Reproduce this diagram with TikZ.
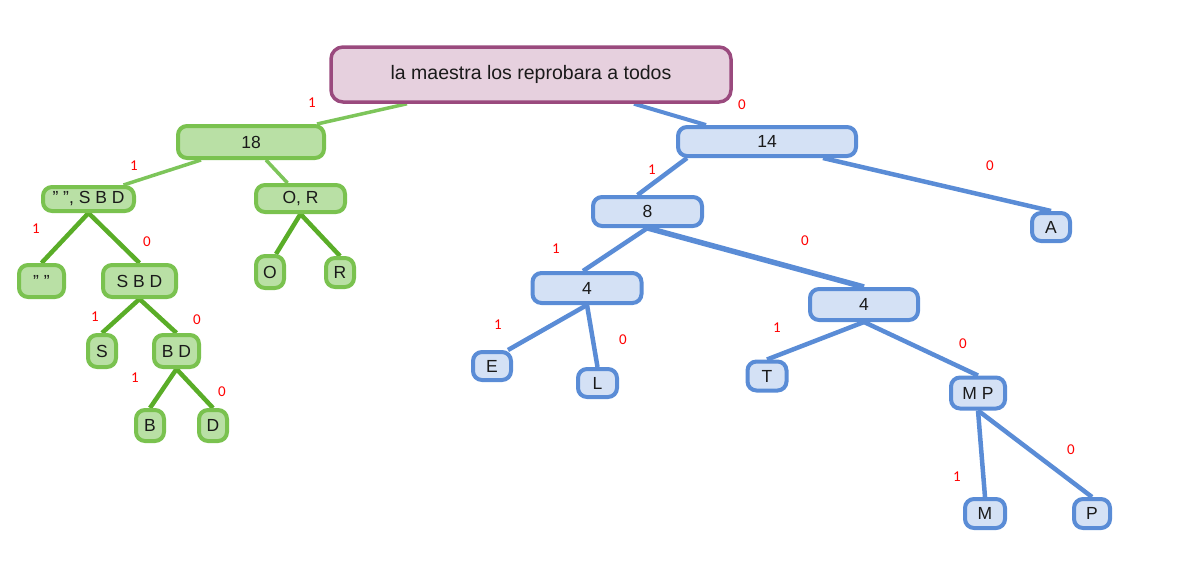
\documentclass[tikz,border=0pt]{standalone}
\usepackage{fontspec}
\setmainfont{Liberation Sans}
\newfontfamily\lblfamily{Carlito}
\usetikzlibrary{backgrounds}
\definecolor{rootfill}{HTML}{E6D0DE}
\definecolor{rootdraw}{HTML}{9A4A7E}
\definecolor{gfill}{HTML}{B9E0A5}
\definecolor{gdraw}{HTML}{7AC24F}
\definecolor{gedge}{HTML}{7DC55A}
\definecolor{gedgedark}{HTML}{5AAD28}
\definecolor{bfill}{HTML}{D4E1F5}
\definecolor{bdraw}{HTML}{5A8CD6}
\definecolor{txt}{HTML}{1A1A1A}
\tikzset{
  box/.style={rounded corners=9pt, line width=4pt, inner sep=0pt, text=txt,
    font=\fontsize{17.5}{17.5}\selectfont},
  gbox/.style={box, draw=gdraw, fill=gfill},
  bbox/.style={box, draw=bdraw, fill=bfill},
  rootbox/.style={box, rounded corners=12pt, line width=3.5pt, draw=rootdraw, fill=rootfill,
    font=\fontsize{19.5}{19.5}\selectfont},
  sz/.style 2 args={minimum width=#1pt, minimum height=#2pt},
  lbl/.style={text=red, inner sep=0pt, font=\lblfamily\fontsize{15}{15}\selectfont},
  gline/.style={draw=gedge, line width=3.5pt},
  gline2/.style={draw=gedgedark, line width=4.5pt},
  bline/.style={draw=bdraw, line width=4.5pt},
}
\begin{document}
\begin{tikzpicture}[x=1pt, y=-1pt]
\useasboundingbox (0,0) rectangle (1201,574);
% root
\node[rootbox, sz={400}{55}] (root) at (531,74.5) {la maestra los reprobara a todos};
% green subtree
\node[gbox, sz={146}{32}] (g18) at (251,142) {18};
\node[gbox, sz={91}{24}] (gsbd1) at (88.5,199) {" ", S B D};
\node[gbox, sz={89}{27}] (gor) at (300.5,198.5) {O, R};
\node[gbox, sz={45}{32}] (gsp) at (41.5,281) {" "};
\node[gbox, sz={73}{32}] (gsbd) at (139.5,281) {S B D};
\node[gbox, sz={28}{32}] (go) at (270,272) {O};
\node[gbox, sz={28}{29}] (gr) at (340,272.5) {R};
\node[gbox, sz={28}{32}] (gs) at (102,351) {S};
\node[gbox, sz={45}{32}] (gbd) at (176.5,351) {B D};
\node[gbox, sz={28}{31}] (gb) at (150,425.5) {B};
\node[gbox, sz={28}{31}] (gd) at (213,425.5) {D};
% blue subtree
\node[bbox, sz={178}{29}] (b14) at (767,141.5) {14};
\node[bbox, sz={109}{29}] (b8) at (647.5,211.5) {8};
\node[bbox, sz={38}{28}] (ba) at (1051,227) {A};
\node[bbox, sz={109}{30}] (b4l) at (587,288) {4};
\node[bbox, sz={108}{31}] (b4r) at (864,304.5) {4};
\node[bbox, sz={38}{28}] (be) at (492,366) {E};
\node[bbox, sz={39}{28}] (bl) at (597.5,383) {L};
\node[bbox, sz={39}{29}] (bt) at (767,376) {T};
\node[bbox, sz={54}{31}] (bmp) at (978,393) {M P};
\node[bbox, sz={40}{29}] (bm) at (985,513.5) {M};
\node[bbox, sz={36}{29}] (bp) at (1092,513.5) {P};
% connectors
\begin{scope}[on background layer]
\draw[gline] ([xshift=-124pt]root.south) -- ([xshift=66pt]g18.north);
\draw[bline, line width=4pt] ([xshift=103pt]root.south) -- ([xshift=-61pt]b14.north);
\draw[gline] ([xshift=-50pt]g18.south) -- ([xshift=35pt]gsbd1.north);
\draw[gline] ([xshift=15pt]g18.south) -- ([xshift=-13pt]gor.north);
\draw[gline2] (gsbd1.south) -- (gsp.north);
\draw[gline2] (gsbd1.south) -- (gsbd.north);
\draw[gline2] (gor.south) -- ([xshift=6pt]go.north);
\draw[gline2] (gor.south) -- (gr.north);
\draw[gline2] (gsbd.south) -- (gs.north);
\draw[gline2] (gsbd.south) -- (gbd.north);
\draw[gline2] (gbd.south) -- (gb.north);
\draw[gline2] (gbd.south) -- (gd.north);
\draw[bline] ([xshift=-80pt]b14.south) -- ([xshift=-10pt]b8.north);
\draw[bline] ([xshift=56pt]b14.south) -- (ba.north);
\draw[bline] (b8.south) -- ([xshift=-4pt]b4l.north);
\draw[bline, line width=5.5pt] (b8.south) -- (b4r.north);
\draw[bline] (b4l.south) -- ([xshift=16pt]be.north);
\draw[bline] (b4l.south) -- (bl.north);
\draw[bline] (b4r.south) -- (bt.north);
\draw[bline] (b4r.south) -- (bmp.north);
\draw[bline] (bmp.south) -- (bm.north);
\draw[bline] (bmp.south) -- (bp.north);
\end{scope}
% edge labels
\node[lbl] (l1) at (312,103) {1};
\node[lbl] (l2) at (742,105) {0};
\node[lbl] (l3) at (134,166) {1};
\node[lbl] (l4) at (36,229) {1};
\node[lbl] (l5) at (147,242) {0};
\node[lbl] (l6) at (95,317) {1};
\node[lbl] (l7) at (197,320) {0};
\node[lbl] (l8) at (135,378) {1};
\node[lbl] (l9) at (222,392) {0};
\node[lbl] (l10) at (652,170) {1};
\node[lbl] (l11) at (990,166) {0};
\node[lbl] (l12) at (556,249) {1};
\node[lbl] (l13) at (805,241) {0};
\node[lbl] (l14) at (498,325) {1};
\node[lbl] (l15) at (623,340) {0};
\node[lbl] (l16) at (777,328) {1};
\node[lbl] (l17) at (963,344) {0};
\node[lbl] (l18) at (957,477) {1};
\node[lbl] (l19) at (1071,450) {0};
\end{tikzpicture}
\end{document}
